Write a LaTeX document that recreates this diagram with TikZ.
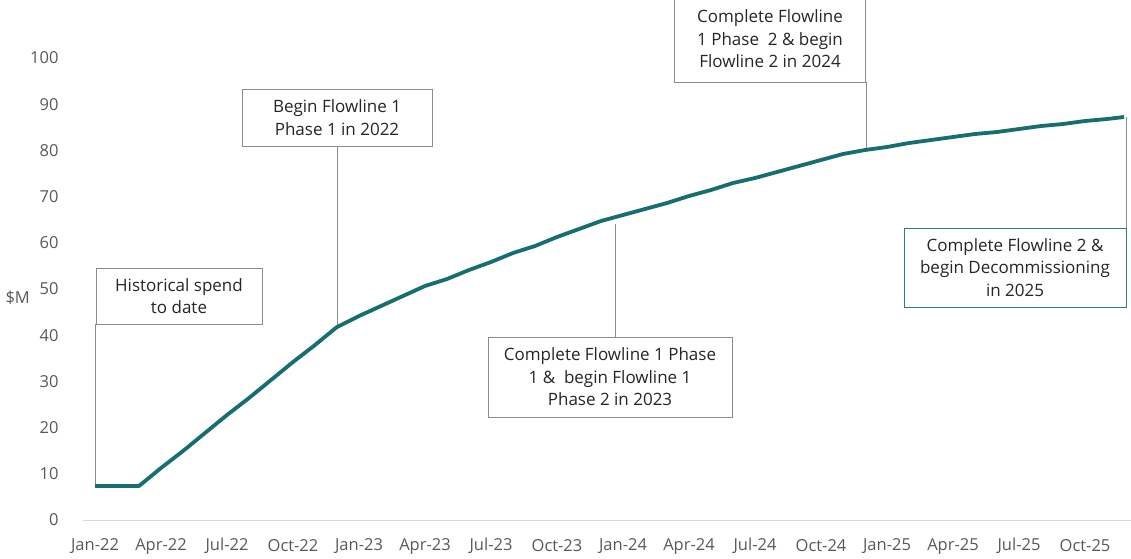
\documentclass[tikz,border=0pt]{standalone}
\usepackage{fontspec}
\setmainfont{Open Sans}
\definecolor{teal1}{RGB}{22,110,110}
\definecolor{boxgrey}{RGB}{140,140,140}
\definecolor{ticktext}{RGB}{89,89,89}
\definecolor{bodytext}{RGB}{38,38,38}
\definecolor{axisgrey}{RGB}{217,217,217}
\definecolor{greenedge}{RGB}{40,130,110}
\begin{document}
\begin{tikzpicture}[x=1pt,y=-1pt,
  callout/.style={draw=boxgrey,line width=0.9pt,fill=white,align=center,inner sep=0pt,
    text=bodytext,font=\fontsize{17}{22.5}\selectfont},
  leader/.style={draw=boxgrey,line width=0.9pt},
  tick/.style={text=ticktext,font=\fontsize{16.5}{19}\selectfont},
  series/.style={draw=teal1,line width=3.8pt,line join=round}]
\useasboundingbox (0,0) rectangle (1131,558);
% axis
\draw[axisgrey,line width=1pt] (83,520) -- (1131,520);
% y tick labels
\foreach \v in {0,10,...,100}{
  \node[tick,anchor=east] (y\v) at (62,{520-4.62*\v}) {\v};
}
\node[tick,anchor=west] (ylab) at (2,298) {\$M};
% x tick labels
\foreach \lab [count=\i from 0] in {Jan-22,Apr-22,Jul-22,Oct-22,Jan-23,Apr-23,Jul-23,Oct-23,Jan-24,Apr-24,Jul-24,Oct-24,Jan-25,Apr-25,Jul-25,Oct-25}{
  \node[tick] (x\i) at ({95+66*\i},546) {\lab};
}
% data coordinates
\coordinate (p0) at (95,486);
\coordinate (p11) at (337,327);
\coordinate (c4) at (615,224);
\coordinate (p35) at (865,150);
\coordinate (pend) at (1124,117);
% callouts
\node[callout,minimum width=166pt,minimum height=56pt] (b1) at (179,296) {Historical spend\\to date};
\node[callout,minimum width=190pt,minimum height=57pt] (b2) at (337,117.5) {Begin Flowline 1\\Phase 1 in 2022};
\node[callout,minimum width=191pt,minimum height=86pt] (b3) at (770,39) {Complete Flowline\\1 Phase\ \ 2 \& begin\\Flowline 2 in 2024};
\node[callout,minimum width=244pt,minimum height=80pt] (b4) at (610,377) {Complete Flowline 1 Phase\\1 \&\ \ begin Flowline 1\\Phase 2 in 2023};
\node[callout,draw=greenedge,minimum width=222pt,minimum height=79pt] (b5) at (1015,267.5) {Complete Flowline 2 \&\\begin Decommissioning\\in 2025};
% leaders
\draw[leader] (b1.south west) -- (b1.south west |- p0);
\draw[leader] (b2.south) -- (p11);
\draw[leader] (b3.south east) -- (b3.south east |- p35);
\draw[leader] (b4.north -| c4) -- (c4);
\draw[leader] (b5.north east) -- (b5.north east |- pend);
% series
\draw[series] (p0) -- (139,486) -- (161,468) -- (183,451) -- (205,433) -- (227,415) -- (249,398)
  -- (271,380) -- (293,362) -- (315,345) -- (p11) -- (359,316) -- (381,306) -- (403,296)
  -- (425,286) -- (447,279) -- (469,270) -- (491,262) -- (513,253) -- (535,246) -- (557,237)
  -- (579,229) -- (601,221) -- (623,215) -- (645,209) -- (667,203) -- (689,196) -- (711,190)
  -- (733,183) -- (755,178) -- (777,172) -- (799,166) -- (821,160) -- (843,154) -- (p35)
  -- (887,147) -- (909,143) -- (931,140) -- (953,137) -- (975,134) -- (997,132) -- (1019,129)
  -- (1041,126) -- (1063,124) -- (1085,121) -- (1107,119) -- (pend);
\end{tikzpicture}
\end{document}
